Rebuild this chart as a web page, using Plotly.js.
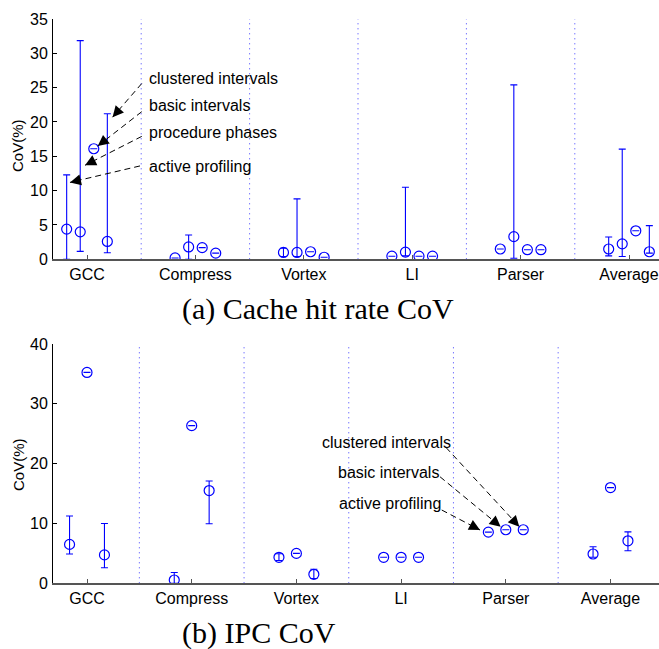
<!DOCTYPE html>
<html>
<head>
<meta charset="utf-8">
<script src="https://cdn.plot.ly/plotly-3.0.1.min.js"></script>
<style>
  html, body { margin: 0; padding: 0; background: #fff; }
  #chart { width: 659px; height: 649px; }
</style>
</head>
<body>
<div id="chart"></div>
<script>
const categories = ['GCC', 'Compress', 'Vortex', 'LI', 'Parser', 'Average'];

// (a) Cache hit rate CoV: centre value plus upper / lower end of each bar
const cacheActive    = [4.4, 0.2, 1.0, 0.45, 1.5, 1.5];
const cacheActiveHi  = [12.3, 0.2, 1.6, 0.45, 1.5, 3.25];
const cacheActiveLo  = [0, 0.2, 0.4, 0.45, 1.5, 0.5];
const cacheProc      = [4.0, 1.8, 1.0, 1.05, 3.3, 2.25];
const cacheProcHi    = [31.85, 3.55, 8.8, 10.5, 25.4, 16.05];
const cacheProcLo    = [1.15, 0, 0.4, 0.5, 0.15, 0.4];
const cacheBasic     = [16.1, 1.7, 1.1, 0.45, 1.4, 4.15];
const cacheCluster   = [2.6, 0.9, 0.3, 0.45, 1.4, 1.1];
const cacheClusterHi = [21.2, 0.9, 0.3, 0.45, 1.4, 4.9];
const cacheClusterLo = [0.95, 0.9, 0.3, 0.45, 1.4, 0.9];

// (b) IPC CoV
const ipcActive    = [6.5, 0.55, 4.35, 4.35, 8.55, 4.9];
const ipcActiveHi  = [11.25, 1.8, 4.95, 4.35, 8.55, 6.1];
const ipcActiveLo  = [4.9, 0, 3.8, 4.35, 8.55, 4.35];
const ipcBasic     = [35.25, 26.35, 5.0, 4.35, 8.95, 16.0];
const ipcCluster   = [4.75, 15.5, 1.5, 4.35, 8.95, 7.1];
const ipcClusterHi = [10.0, 17.1, 2.35, 4.35, 8.95, 8.6];
const ipcClusterLo = [2.6, 9.95, 0.8, 4.35, 8.95, 5.45];

const W = 659, H = 649;
const BLUE = '#0000ff';
const SANS = 'Liberation Sans, Arial, sans-serif';
const SERIF = 'Liberation Serif, Times New Roman, serif';

// plot boxes in pixels
const boxA = { l: 53, r: 659, t: 19, b: 259.3, x0: 87, step: 108.4, ymax: 35 };
const boxB = { l: 53, r: 659, t: 344, b: 583.3, x0: 87, step: 104.7, ymax: 40 };

const px = v => v / W;
const py = v => 1 - v / H;

function series(vals, hi, lo, offset, xa, ya) {
  hi = hi || vals; lo = lo || vals;
  return {
    type: 'scatter', mode: 'markers',
    x: vals.map((_, i) => i + offset), y: vals,
    xaxis: xa, yaxis: ya,
    marker: { symbol: 'circle-open', size: 10, color: BLUE, line: { width: 1.2, color: BLUE } },
    error_y: {
      type: 'data', symmetric: false,
      array: vals.map((v, i) => hi[i] - v),
      arrayminus: vals.map((v, i) => v - lo[i]),
      color: BLUE, thickness: 1.1, width: 3.5
    },
    hoverinfo: 'x+y'
  };
}

const traces = [
  series(cacheActive, cacheActiveHi, cacheActiveLo, -0.1875, 'x', 'y'),
  series(cacheProc, cacheProcHi, cacheProcLo, -0.0625, 'x', 'y'),
  series(cacheBasic, null, null, 0.0625, 'x', 'y'),
  series(cacheCluster, cacheClusterHi, cacheClusterLo, 0.1875, 'x', 'y'),
  series(ipcActive, ipcActiveHi, ipcActiveLo, -1 / 6, 'x2', 'y2'),
  series(ipcBasic, null, null, 0, 'x2', 'y2'),
  series(ipcCluster, ipcClusterHi, ipcClusterLo, 1 / 6, 'x2', 'y2')
];

function xAxis(box) {
  return {
    domain: [px(box.l), px(box.r)],
    range: [(box.l - box.x0) / box.step, (box.r - box.x0) / box.step],
    tickvals: categories.map((_, i) => i), ticktext: categories,
    ticks: 'inside', ticklen: 4, tickcolor: '#555',
    showline: true, linecolor: '#555', linewidth: 1.5,
    showgrid: false, zeroline: false,
    tickfont: { family: SANS, size: 16, color: '#000' },
    fixedrange: true
  };
}
function yAxis(box, anchor) {
  return {
    domain: [py(box.b), py(box.t)],
    range: [0, box.ymax], dtick: box.ymax === 35 ? 5 : 10,
    ticks: 'inside', ticklen: 4, tickcolor: '#000',
    showline: true, linecolor: '#000', linewidth: 1,
    showgrid: false, zeroline: false, anchor: anchor,
    tickfont: { family: SANS, size: 16, color: '#000' },
    ticklabelstandoff: 1,
    fixedrange: true
  };
}

const shapes = [];
const annotations = [];

// dotted separators between benchmarks
[['x', 'y', 35], ['x2', 'y2', 40]].forEach(([xr, yr, top]) => {
  for (let i = 0; i < categories.length - 1; i++) {
    shapes.push({
      type: 'line', xref: xr, yref: yr, x0: i + 0.5, x1: i + 0.5, y0: 0, y1: top,
      line: { color: 'rgb(60,60,255)', width: 1, dash: '1px,4px' }, layer: 'below'
    });
  }
});

// dashed call-outs: label text, tail and head in data coordinates
const calloutsA = [
  { text: 'clustered intervals', tx: 147, ty: 79,  tail: [0.505, 25.6], head: [0.236, 20.7] },
  { text: 'basic intervals',     tx: 147, ty: 105, tail: [0.505, 21.5], head: [0.099, 16.5] },
  { text: 'procedure phases',    tx: 147, ty: 132, tail: [0.505, 17.9], head: [-0.018, 13.7] },
  { text: 'active profiling',    tx: 147, ty: 166, tail: [0.489, 13.6], head: [-0.157, 11.2] }
];
const calloutsB = [
  { text: 'clustered intervals', tx: 453, ty: 442, tail: [3.429, 22.7], head: [4.129, 9.46] },
  { text: 'basic intervals',     tx: 441, ty: 472, tail: [3.372, 17.8], head: [3.951, 9.46] },
  { text: 'active profiling',    tx: 443, ty: 503, tail: [3.388, 12.25], head: [3.754, 8.91] }
];

function addCallouts(list, box, xr, yr, anchor) {
  const sx = box.step;
  const sy = (box.b - box.t) / box.ymax;
  list.forEach(c => {
    annotations.push({
      xref: 'paper', yref: 'paper', x: px(c.tx), y: py(c.ty),
      xanchor: anchor, yanchor: 'middle', text: c.text, showarrow: false,
      font: { family: SANS, size: 16, color: '#000' }
    });
    shapes.push({
      type: 'line', xref: xr, yref: yr,
      x0: c.tail[0], y0: c.tail[1], x1: c.head[0], y1: c.head[1],
      line: { color: '#000', width: 1, dash: '6px,4px' }
    });
    const dx = (c.tail[0] - c.head[0]) * sx;
    const dy = -(c.tail[1] - c.head[1]) * sy;
    const len = Math.hypot(dx, dy);
    annotations.push({
      xref: xr, yref: yr, x: c.head[0], y: c.head[1], text: ' ',
      showarrow: true, arrowhead: 2, arrowsize: 2.2, arrowwidth: 1, arrowcolor: '#000',
      ax: dx / len * 10, ay: dy / len * 10, standoff: 0
    });
  });
}
addCallouts(calloutsA, boxA, 'x', 'y', 'left');
addCallouts(calloutsB, boxB, 'x2', 'y2', 'right');

// axis titles and panel captions
annotations.push(
  { xref: 'paper', yref: 'paper', x: px(18), y: py(146), xanchor: 'center', yanchor: 'middle',
    text: 'CoV(%)', textangle: -90,
    showarrow: false, font: { family: SANS, size: 15, color: '#000' } },
  { xref: 'paper', yref: 'paper', x: px(18), y: py(465), xanchor: 'center', yanchor: 'middle',
    text: 'CoV(%)', textangle: -90,
    showarrow: false, font: { family: SANS, size: 15, color: '#000' } },
  { xref: 'paper', yref: 'paper', x: px(180), y: py(309), xanchor: 'left', yanchor: 'middle',
    text: '(a) Cache hit rate CoV', showarrow: false, font: { family: SERIF, size: 30, color: '#000' } },
  { xref: 'paper', yref: 'paper', x: px(180), y: py(633), xanchor: 'left', yanchor: 'middle',
    text: '(b) IPC CoV', showarrow: false, font: { family: SERIF, size: 30, color: '#000' } }
);

const layout = {
  width: W, height: H,
  margin: { l: 0, r: 0, t: 0, b: 0 },
  paper_bgcolor: '#fff', plot_bgcolor: '#fff',
  showlegend: false,
  xaxis: Object.assign(xAxis(boxA), { anchor: 'y' }),
  yaxis: yAxis(boxA, 'x'),
  xaxis2: Object.assign(xAxis(boxB), { anchor: 'y2' }),
  yaxis2: yAxis(boxB, 'x2'),
  shapes: shapes,
  annotations: annotations
};

Plotly.newPlot('chart', traces, layout, { displayModeBar: false, staticPlot: true });
</script>
</body>
</html>
